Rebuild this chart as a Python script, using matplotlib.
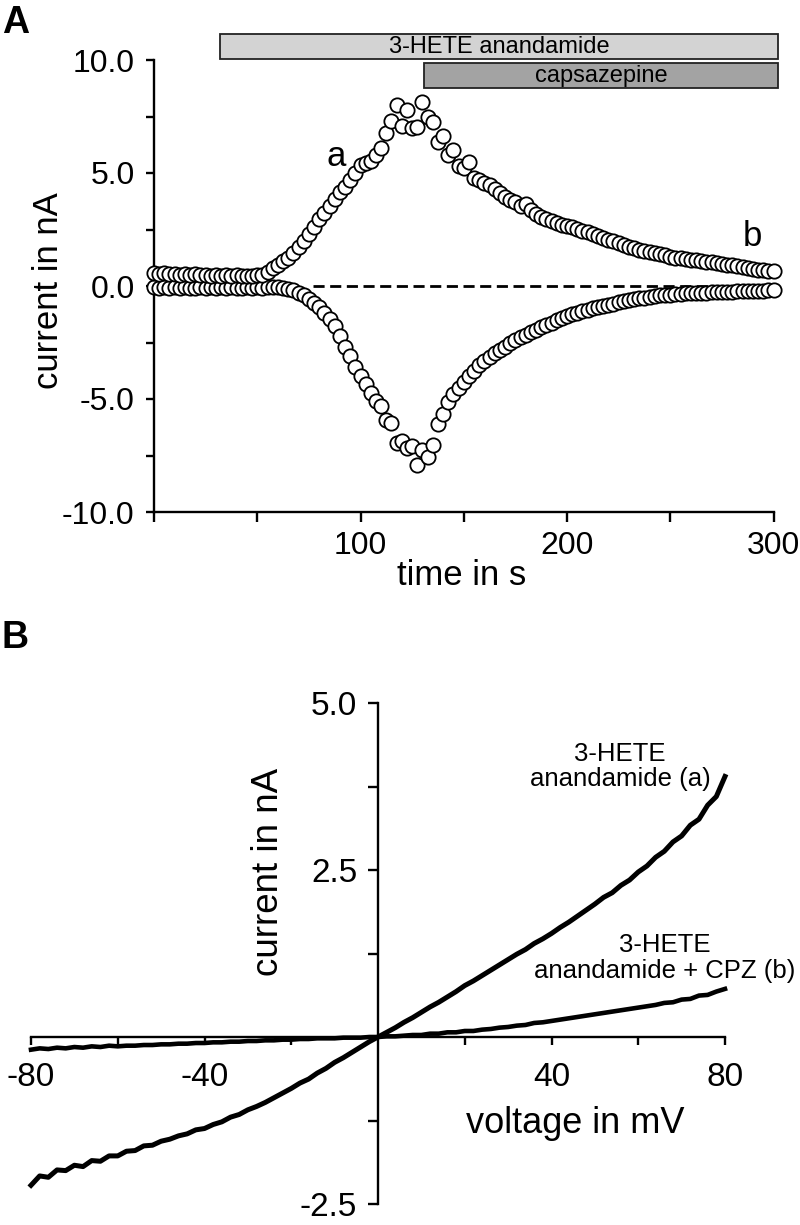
import numpy as np
import matplotlib
matplotlib.use("Agg")
import matplotlib.pyplot as plt
from matplotlib.patches import Rectangle

plt.rcParams['font.family'] = ['Liberation Sans', 'DejaVu Sans']

# Panel A: current over time, sampled every 2.5 s (0 ... 300 s)
current_up = [
    0.58, 0.54, 0.56, 0.51, 0.55, 0.50, 0.53, 0.49, 0.52, 0.47,
    0.50, 0.46, 0.49, 0.45, 0.48, 0.44, 0.47, 0.43, 0.46, 0.44,
    0.47, 0.50, 0.60, 0.78, 0.95, 1.10, 1.26, 1.45, 1.72, 2.00,
    2.30, 2.62, 2.95, 3.25, 3.55, 3.87, 4.15, 4.39, 4.69, 5.00,
    5.35, 5.45, 5.52, 5.80, 6.10, 6.75, 7.30, 8.00, 7.10, 7.80,
    7.00, 7.05, 8.15, 7.50, 7.25, 6.35, 6.65, 5.80, 6.02, 5.30,
    5.20, 5.50, 4.80, 4.70, 4.55, 4.45, 4.28, 4.10, 3.95, 3.82,
    3.70, 3.55, 3.65, 3.35, 3.20, 3.06, 2.95, 2.86, 2.78, 2.72,
    2.65, 2.60, 2.52, 2.45, 2.37, 2.29, 2.20, 2.12, 2.05, 1.97,
    1.90, 1.82, 1.74, 1.67, 1.60, 1.54, 1.49, 1.44, 1.40, 1.35,
    1.30, 1.26, 1.22, 1.19, 1.16, 1.13, 1.10, 1.07, 1.04, 1.01,
    0.98, 0.95, 0.92, 0.88, 0.84, 0.80, 0.76, 0.73, 0.70, 0.67,
    0.66,
]
current_down = [
    -0.05, -0.08, -0.06, -0.09, -0.05, -0.08, -0.06, -0.10, -0.07, -0.05,
    -0.09, -0.06, -0.08, -0.05, -0.08, -0.06, -0.09, -0.07, -0.05, -0.08,
    -0.06, -0.07, -0.05, -0.06, -0.05, -0.08, -0.12, -0.18, -0.30, -0.42,
    -0.58, -0.75, -0.95, -1.18, -1.45, -1.78, -2.22, -2.69, -3.10, -3.57,
    -3.98, -4.35, -4.75, -5.08, -5.33, -5.93, -6.08, -6.95, -6.88, -7.18,
    -7.10, -7.92, -7.26, -7.55, -7.04, -6.10, -5.65, -5.15, -4.80, -4.50,
    -4.25, -4.00, -3.75, -3.50, -3.30, -3.13, -2.98, -2.83, -2.68, -2.53,
    -2.40, -2.25, -2.15, -2.03, -1.93, -1.83, -1.72, -1.62, -1.52, -1.42,
    -1.33, -1.26, -1.18, -1.10, -1.04, -0.98, -0.93, -0.88, -0.83, -0.78,
    -0.73, -0.68, -0.63, -0.59, -0.55, -0.51, -0.48, -0.45, -0.42, -0.40,
    -0.38, -0.36, -0.34, -0.33, -0.32, -0.31, -0.30, -0.29, -0.28, -0.27,
    -0.26, -0.26, -0.25, -0.24, -0.23, -0.22, -0.21, -0.20, -0.20, -0.19,
    -0.18,
]
time_s = np.linspace(0, 300, len(current_up))

# application bars: (label, start s, end s, y low, y high, colour)
bars = [
    ("3-HETE anandamide", 32.2, 302, 10.04, 11.15, "#d3d3d3"),
    ("capsazepine", 130.8, 302, 8.75, 9.88, "#a3a3a3"),
]

# Panel B: I-V relations, every 2 mV from -80 to 80 mV
iv_a = [
    -2.22, -2.08, -2.10, -1.99, -2.00, -1.92, -1.94, -1.85, -1.86, -1.78,
    -1.78, -1.71, -1.70, -1.63, -1.62, -1.56, -1.53, -1.48, -1.45, -1.39,
    -1.37, -1.31, -1.27, -1.20, -1.16, -1.09, -1.04, -0.98, -0.91, -0.84,
    -0.77, -0.69, -0.63, -0.54, -0.47, -0.38, -0.31, -0.23, -0.15, -0.07,
    0.00, 0.07, 0.14, 0.22, 0.29, 0.37, 0.45, 0.52, 0.60, 0.68,
    0.77, 0.84, 0.92, 1.00, 1.08, 1.16, 1.24, 1.31, 1.40, 1.47,
    1.55, 1.64, 1.72, 1.81, 1.90, 1.99, 2.09, 2.16, 2.27, 2.35,
    2.47, 2.56, 2.69, 2.78, 2.92, 3.01, 3.17, 3.26, 3.47, 3.60,
    3.90,
]
iv_b = [
    -0.19, -0.17, -0.18, -0.16, -0.17, -0.15, -0.16, -0.14, -0.15, -0.13,
    -0.14, -0.13, -0.13, -0.12, -0.12, -0.11, -0.11, -0.10, -0.10, -0.09,
    -0.09, -0.08, -0.08, -0.07, -0.07, -0.06, -0.06, -0.05, -0.05, -0.04,
    -0.04, -0.03, -0.03, -0.02, -0.02, -0.02, -0.01, -0.01, -0.01, 0.00,
    0.00, 0.01, 0.01, 0.02, 0.03, 0.03, 0.05, 0.05, 0.07, 0.07,
    0.09, 0.09, 0.11, 0.12, 0.14, 0.15, 0.17, 0.18, 0.21, 0.22,
    0.24, 0.26, 0.28, 0.30, 0.32, 0.34, 0.36, 0.38, 0.40, 0.42,
    0.44, 0.46, 0.48, 0.51, 0.52, 0.56, 0.57, 0.62, 0.63, 0.68,
    0.72,
]
voltage_mv = np.linspace(-80, 80, len(iv_a))

W, H = 800, 1225
fig = plt.figure(figsize=(W / 100, H / 100), dpi=100)


def fx(px):
    return px / W


def fy(py):
    return 1 - py / H


# ---------------- panel A ----------------
ax = fig.add_axes([fx(154), fy(512), fx(773.5) - fx(154), fy(60) - fy(512)])
ax.set_xlim(0, 300)
ax.set_ylim(-10, 10)
for s in ['top', 'right']:
    ax.spines[s].set_visible(False)
for s in ['left', 'bottom']:
    ax.spines[s].set_linewidth(1.7)

ax.plot([77, 300], [0, 0], ls=(0, (4, 2)), color='black', lw=2.0, zorder=1)
mk = dict(ls='none', marker='o', ms=10.3, mfc='white', mec='black', mew=1.3,
          clip_on=False, zorder=3)
ax.plot(time_s, current_down, **mk)
ax.plot(time_s, current_up, **mk)

for label, t0, t1, y0, y1, col in bars:
    ax.add_patch(Rectangle((t0, y0), t1 - t0, y1 - y0, facecolor=col,
                           edgecolor='#222222', lw=1.3, clip_on=False, zorder=4))
    ax.text((t0 + t1) / 2, (y0 + y1) / 2 - 0.02, label, ha='center', va='center',
            fontsize=17, clip_on=False, zorder=5)

ax.text(88.4, 5.72, 'a', fontsize=25, ha='center', va='center')
ax.text(289.6, 2.18, 'b', fontsize=25, ha='center', va='center')

ax.set_xticks([0, 50, 100, 150, 200, 250, 300])
ax.set_xticklabels(['', '', '100', '', '200', '', '300'])
ax.set_yticks([-10, -7.5, -5, -2.5, 0, 2.5, 5, 7.5, 10])
ax.set_yticklabels(['-10.0', '', '-5.0', '', '0.0', '', '5.0', '', '10.0'])
ax.tick_params(axis='x', direction='out', length=7, width=1.7, labelsize=23, pad=7)
ax.tick_params(axis='y', direction='out', length=6, width=1.7, labelsize=23, pad=8)

fig.text(fx(462), fy(585), 'time in s', ha='center', va='baseline', fontsize=25)
fig.text(fx(49), fy(291), 'current in nA', ha='center', va='center',
         rotation=90, fontsize=25)
fig.text(fx(2), fy(33), 'A', ha='left', va='baseline', fontsize=27, fontweight='bold')

# ---------------- panel B ----------------
bx = fig.add_axes([fx(31), fy(1204), fx(725) - fx(31), fy(703) - fy(1204)])
bx.set_xlim(-80, 80)
bx.set_ylim(-2.5, 5.0)
for s in ['top', 'right']:
    bx.spines[s].set_visible(False)
bx.spines['left'].set_position(('data', 0))
bx.spines['bottom'].set_position(('data', 0))
for s in ['left', 'bottom']:
    bx.spines[s].set_linewidth(1.7)

bx.plot(voltage_mv, iv_b, color='black', lw=3.3, clip_on=False)
bx.plot(voltage_mv, iv_a, color='black', lw=3.6, clip_on=False)

bx.set_xticks([-80, -60, -40, -20, 20, 40, 60, 80])
bx.set_xticklabels(['-80', '', '-40', '', '', '40', '', '80'])
bx.set_yticks([-2.5, -1.25, 1.25, 2.5, 3.75, 5.0])
bx.set_yticklabels(['-2.5', '', '', '2.5', '', '5.0'])
bx.tick_params(axis='x', direction='out', length=6, width=1.7, labelsize=24, pad=12)
bx.tick_params(axis='y', direction='out', length=7, width=1.7, labelsize=24, pad=8)

bx.text(55.8, 4.05, '3-HETE\nanandamide (a)', ha='center', va='center',
        fontsize=18.5, linespacing=1.1)
bx.text(66.2, 1.18, '3-HETE\nanandamide + CPZ (b)', ha='center', va='center',
        fontsize=18.5, linespacing=1.1)

fig.text(fx(575), fy(1133), 'voltage in mV', ha='center', va='baseline', fontsize=26)
fig.text(fx(268), fy(872), 'current in nA', ha='center', va='center',
         rotation=90, fontsize=26.5)
fig.text(fx(2), fy(648), 'B', ha='left', va='baseline', fontsize=27, fontweight='bold')

fig.savefig('out.png', dpi=100)
